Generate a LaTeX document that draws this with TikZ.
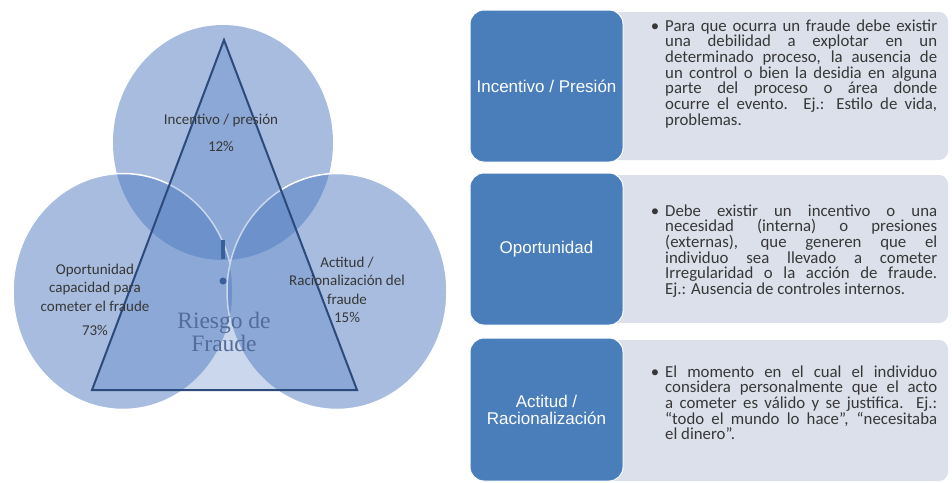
\documentclass[tikz,border=0pt]{standalone}
\usepackage{fontspec}
\setmainfont{Carlito}
\newfontfamily\tagfont{Liberation Sans}
\newfontfamily\riskfont{Liberation Serif}
\usetikzlibrary{positioning}
\definecolor{vennblue}{RGB}{79,122,192}
\definecolor{trioedge}{RGB}{44,74,124}
\definecolor{tagblue}{RGB}{74,126,187}
\definecolor{notegray}{RGB}{219,224,234}
\definecolor{inktext}{RGB}{55,55,55}
\definecolor{riskink}{RGB}{82,108,155}
\definecolor{bangblue}{RGB}{58,96,156}
\newcommand{\looselines}{\tolerance=10000\relax\hbadness=10000\relax}
\tikzset{
 venn/.style={fill=vennblue,fill opacity=0.5},
 vennrim/.style={venn,draw=white,line width=1.5pt},
 trio/.style={fill=vennblue,fill opacity=0.3,draw=trioedge,line width=2pt,line join=miter},
 factor/.style={inner sep=0pt,align=center,text=inktext,font=\fontsize{15pt}{18.5pt}\selectfont},
 tagbox/.style={rectangle,rounded corners=14pt,draw=white,line width=1pt,fill=tagblue,text=white,minimum width=153pt,align=center,font=\tagfont\fontsize{17pt}{17pt}\selectfont},
 notebox/.style={rectangle,rounded corners=9pt,fill=notegray,minimum width=348pt},
 note/.style={inner sep=0pt,text width=272pt,align=justify,anchor=base west,text=inktext,font=\fontsize{16.8pt}{15.7pt}\selectfont}}
\begin{document}
\begin{tikzpicture}[x=1pt,y=-1pt]
\useasboundingbox (0,0) rectangle (952,482);
% triangle of fraud
\path[venn] (223,142.5) ellipse [x radius=110pt,y radius=117.5pt];
\path[vennrim] (123,291.5) ellipse [x radius=110pt,y radius=118pt];
\path[vennrim] (337,291.5) ellipse [x radius=110pt,y radius=118pt];
\path[trio] (224,40) -- (357,390) -- (92,390) -- cycle;
\fill[bangblue] (220.5,240) rectangle (225,259);
\fill[bangblue] (223,281) circle [radius=3.5pt];
\node[factor] (incent) at (221,133) {Incentivo / presión\\[8pt]12\%};
\node[factor] (oport) at (95,300) {Oportunidad\\capacidad para\\cometer el fraude\\[6pt]73\%};
\node[factor] (actit) at (347,290) {Actitud /\\Racionalización del\\fraude\\15\%};
\node[inner sep=0pt,align=center,text=riskink,font=\riskfont\fontsize{23.5pt}{23pt}\selectfont] (riesgo) at (224,332) {Riesgo de\\Fraude};
% descriptions
\node[notebox,minimum height=148pt] (incnote) at (774,86) {};
\node[notebox,minimum height=148pt] (opnote) at (774,249) {};
\node[notebox,minimum height=141pt] (actnote) at (774,410.5) {};
\node[tagbox,minimum height=152pt] (incbox) at (546.5,86) {Incentivo / Presión};
\node[tagbox,minimum height=152pt] (opbox) at (546.5,249) {Oportunidad};
\node[tagbox,minimum height=143pt] (actbox) at (546.5,409.5) {Actitud /\\Racionalización};
\node[note] (inctext) at (665,31) {\looselines\llap{•\hspace{6pt}}Para que ocurra un fraude debe existir\linebreak
 una debilidad a explotar en un\linebreak
 determinado proceso, la ausencia de\linebreak
 un control o bien la desidia en alguna\linebreak
 parte del proceso o área donde\linebreak
 ocurre el evento. Ej.: Estilo de vida,\linebreak
 problemas.};
\node[note] (optext) at (665,216) {\looselines\llap{•\hspace{6pt}}Debe existir un incentivo o una\linebreak
 necesidad (interna) o presiones\linebreak
 (externas), que generen que el\linebreak
 individuo sea llevado a cometer\linebreak
 Irregularidad o la acción de fraude.\linebreak
 Ej.: Ausencia de controles internos.};
\node[note] (acttext) at (665,377) {\looselines\llap{•\hspace{6pt}}El momento en el cual el individuo\linebreak
 considera personalmente que el acto\linebreak
 a cometer es válido y se justifica. Ej.:\linebreak
 “todo el mundo lo hace”, “necesitaba\linebreak
 el dinero”.};
\end{tikzpicture}
\end{document}
